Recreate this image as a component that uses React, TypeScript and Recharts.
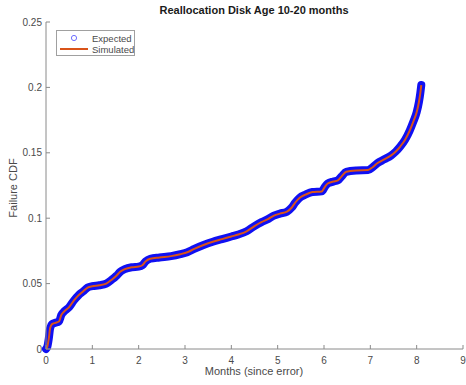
import React from "react";
import { LineChart, Line, XAxis, YAxis } from "recharts";

// months since the error, and the matching CDF samples
const months = [
  0, 0.03, 0.06, 0.09, 0.13, 0.2, 0.28, 0.33, 0.4, 0.5, 0.6, 0.7, 0.8, 0.9, 1.0,
  1.15, 1.3, 1.42, 1.52, 1.6, 1.7, 1.85, 2.0, 2.08, 2.15, 2.25, 2.45, 2.7, 2.9,
  3.05, 3.2, 3.4, 3.6, 3.8, 4.0, 4.15, 4.33, 4.5, 4.65, 4.8, 4.92, 5.05, 5.2,
  5.3, 5.38, 5.47, 5.6, 5.75, 5.95, 6.02, 6.08, 6.2, 6.3, 6.38, 6.48, 6.7, 6.95,
  7.05, 7.15, 7.3, 7.45, 7.55, 7.65, 7.75, 7.85, 7.93, 8.0, 8.05, 8.08, 8.1,
];

const expected = [
  0, 0.002, 0.008, 0.016, 0.019, 0.02, 0.021, 0.026, 0.029, 0.032, 0.037, 0.041,
  0.044, 0.047, 0.048, 0.0487, 0.05, 0.053, 0.056, 0.059, 0.061, 0.0625, 0.063,
  0.064, 0.067, 0.069, 0.07, 0.071, 0.0725, 0.074, 0.0765, 0.0795, 0.082, 0.084,
  0.086, 0.0875, 0.09, 0.094, 0.097, 0.0995, 0.102, 0.1035, 0.105, 0.108, 0.112,
  0.1155, 0.118, 0.12, 0.1205, 0.124, 0.1265, 0.128, 0.129, 0.132, 0.1355,
  0.1365, 0.1368, 0.139, 0.142, 0.145, 0.148, 0.151, 0.155, 0.16, 0.167, 0.174,
  0.181, 0.189, 0.196, 0.2018,
];

const simulated = [
  0, 0.002, 0.008, 0.016, 0.019, 0.02, 0.021, 0.026, 0.029, 0.032, 0.037, 0.041,
  0.044, 0.047, 0.048, 0.0487, 0.05, 0.053, 0.056, 0.059, 0.061, 0.0625, 0.063,
  0.064, 0.067, 0.069, 0.07, 0.071, 0.0725, 0.074, 0.0765, 0.0795, 0.082, 0.084,
  0.086, 0.0875, 0.09, 0.094, 0.097, 0.0995, 0.102, 0.1035, 0.105, 0.108, 0.112,
  0.1155, 0.118, 0.12, 0.1205, 0.124, 0.1265, 0.128, 0.129, 0.132, 0.1355,
  0.1365, 0.1368, 0.139, 0.142, 0.145, 0.148, 0.151, 0.155, 0.16, 0.167, 0.174,
  0.181, 0.189, 0.196, 0.2018,
];

const xTicks = [0, 1, 2, 3, 4, 5, 6, 7, 8, 9];
const yTicks = [0, 0.05, 0.1, 0.15, 0.2, 0.25];

const data = months.map((m, i) => ({
  month: m,
  expected: expected[i],
  simulated: simulated[i],
}));

const FONT = "'Liberation Sans', Arial, Helvetica, sans-serif";
const AXIS = "#8a8a8a";
const TEXT = "#4a4a4a";
const BLUE = "#1010f2";
const ORANGE = "#D95319";

const PLOT_LEFT = 46;
const PLOT_BOTTOM = 349;

const YTick = (props: any) => {
  const { y, payload } = props;
  return (
    <g>
      <line x1={PLOT_LEFT} x2={PLOT_LEFT + 4} y1={y} y2={y} stroke={AXIS} />
      <text
        x={PLOT_LEFT - 4}
        y={y}
        dy={3.5}
        textAnchor="end"
        fill={TEXT}
        style={{ fontSize: 10, fontFamily: FONT }}
      >
        {String(payload.value)}
      </text>
    </g>
  );
};

const XTick = (props: any) => {
  const { x, payload } = props;
  return (
    <g>
      <line x1={x} x2={x} y1={PLOT_BOTTOM} y2={PLOT_BOTTOM - 4} stroke={AXIS} />
      <text
        x={x}
        y={PLOT_BOTTOM + 15}
        textAnchor="middle"
        fill={TEXT}
        style={{ fontSize: 10, fontFamily: FONT }}
      >
        {String(payload.value)}
      </text>
    </g>
  );
};

export default function App() {
  return (
    <div
      style={{
        position: "absolute",
        left: 0,
        top: 0,
        width: 466,
        height: 385,
        background: "#fff",
        fontFamily: FONT,
      }}
    >
      <LineChart
        width={466}
        height={385}
        data={data}
        margin={{ top: 22, right: 3, left: 0, bottom: 0 }}
      >
        <XAxis
          dataKey="month"
          type="number"
          domain={[0, 9]}
          ticks={xTicks}
          interval={0}
          height={36}
          axisLine={{ stroke: AXIS }}
          tickLine={false}
          tick={<XTick />}
        />
        <YAxis
          type="number"
          domain={[0, 0.25]}
          ticks={yTicks}
          interval={0}
          width={46}
          axisLine={{ stroke: AXIS }}
          tickLine={false}
          tick={<YTick />}
        />
        <Line
          dataKey="expected"
          type="monotone"
          stroke={BLUE}
          strokeWidth={8}
          strokeLinecap="round"
          strokeLinejoin="round"
          dot={false}
          isAnimationActive={false}
        />
        <Line
          dataKey="simulated"
          type="monotone"
          stroke={ORANGE}
          strokeWidth={2}
          dot={false}
          isAnimationActive={false}
        />
      </LineChart>

      <div
        style={{
          position: "absolute",
          left: 0,
          top: 4,
          width: 508,
          textAlign: "center",
          fontSize: 11,
          fontWeight: 700,
          color: "#1a1a1a",
        }}
      >
        Reallocation Disk Age 10-20 months
      </div>

      <div
        style={{
          position: "absolute",
          left: 0,
          top: 365,
          width: 508,
          textAlign: "center",
          fontSize: 11,
          color: TEXT,
        }}
      >
        Months (since error)
      </div>

      <div
        style={{
          position: "absolute",
          left: 13,
          top: 188,
          transform: "translate(-50%, -50%) rotate(-90deg)",
          whiteSpace: "nowrap",
          fontSize: 11,
          color: TEXT,
        }}
      >
        Failure CDF
      </div>

      <svg
        width={80}
        height={27}
        style={{ position: "absolute", left: 56, top: 30 }}
      >
        <rect x={0.5} y={0.5} width={78} height={25} fill="#fff" stroke="#a0a0a0" />
        <circle cx={18} cy={8} r={2.6} fill="none" stroke="#7070ff" strokeWidth={1} />
        <line x1={4} x2={32} y1={19} y2={19} stroke={ORANGE} strokeWidth={2} />
        <text x={36} y={11.5} fill={TEXT} style={{ fontSize: 9.5, fontFamily: FONT }}>
          Expected
        </text>
        <text x={36} y={22.5} fill={TEXT} style={{ fontSize: 9.5, fontFamily: FONT }}>
          Simulated
        </text>
      </svg>
    </div>
  );
}
